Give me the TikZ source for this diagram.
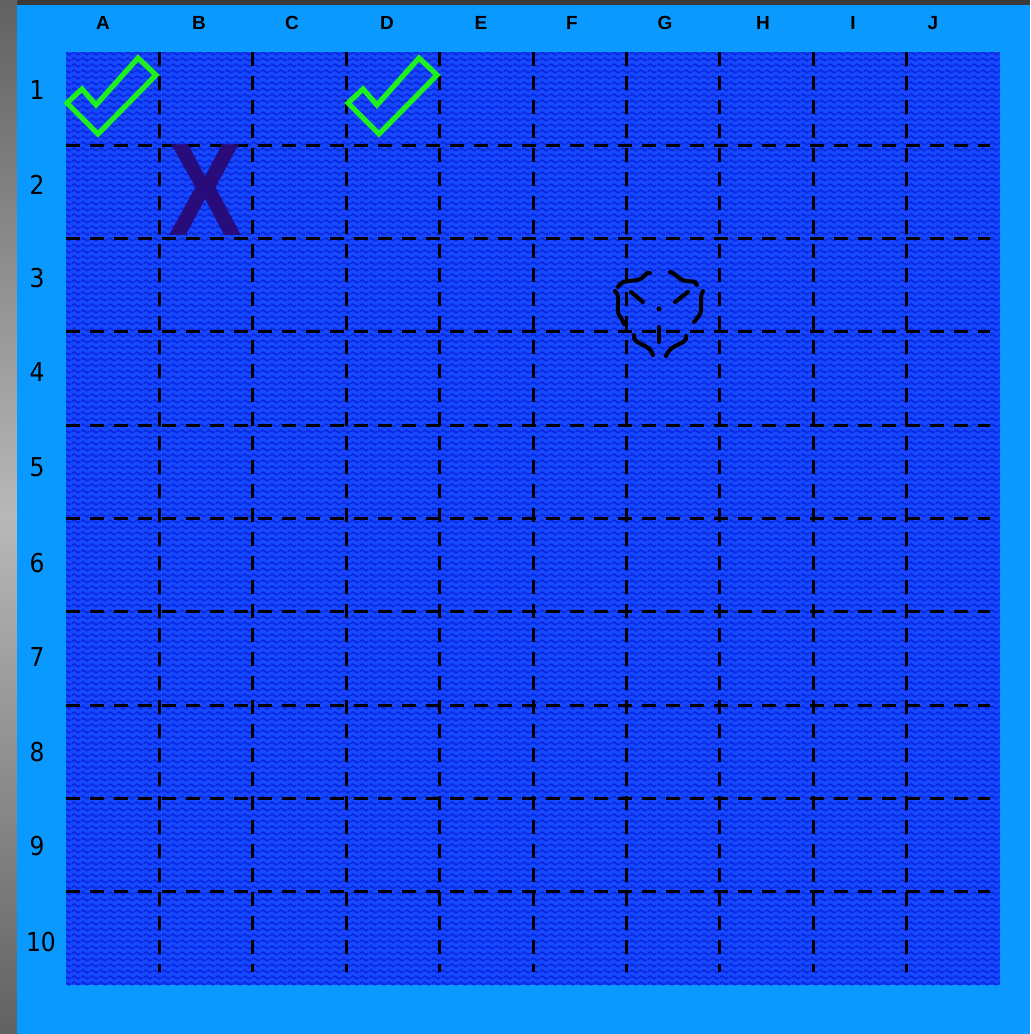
\documentclass[tikz,border=0pt]{standalone}
\definecolor{bgDark}{HTML}{3A3A3A}
\definecolor{bgGrey}{HTML}{B8B8B8}
\definecolor{frameBlue}{HTML}{0A99FF}
\definecolor{seaBlue}{HTML}{1648FF}
\definecolor{waveBlue}{HTML}{0A26DC}
\definecolor{hitGreen}{HTML}{1EF01E}
\definecolor{missInk}{HTML}{280C7C}
\usepackage{fontspec}
\setmainfont{Liberation Sans}
\newfontfamily\rowfont{DejaVu Sans Condensed}
\usetikzlibrary{calc, positioning, patterns.meta}

\tikzdeclarepattern{
  name=seawaves,
  type=uncolored,
  bottom left={(0pt,0pt)},
  top right={(4.5pt,3pt)},
  tile size={(4.5pt,3pt)},
  code={
    \draw[line width=0.9pt] (0pt,1.5pt) sin (1.125pt,2.3pt) cos (2.25pt,1.5pt)
      sin (3.375pt,0.7pt) cos (4.5pt,1.5pt);
  }
}

\begin{document}
\begin{tikzpicture}[x=0.5pt, y=-0.5pt,
    gridline/.style={black, line width=1.5pt, dash pattern=on 7pt off 5pt},
    collabel/.style={font=\bfseries\fontsize{9.5}{10}\selectfont, inner sep=0pt},
    rowlabel/.style={font=\rowfont\fontsize{13}{13}\selectfont, inner sep=0pt},
    tick/.style={hitGreen, line width=2.6pt, line join=miter},
    splash/.style={black, line width=2pt, line cap=round}]
  \useasboundingbox (0,0) rectangle (1030,1034);
  \fill[bgDark] (0,0) rectangle (1030,1034);
  \shade[top color=bgDark!80, bottom color=bgDark!80, middle color=bgGrey] (0,0) rectangle (17,1034);
  \fill[frameBlue] (17,5) rectangle (1030,1034);

  % sea with waves
  \fill[seaBlue] (66,52) rectangle (1000,985);
  \fill[pattern=seawaves, pattern color=waveBlue] (66,52) rectangle (1000,985);

  % dashed grid
  \foreach \i in {1,...,9} {
    \draw[gridline] ({66+93.4*\i},52) -- ({66+93.4*\i},972);
    \draw[gridline] (66,{52+93.3*\i}) -- (990,{52+93.3*\i});
  }

  % labels
  \foreach \c/\x in {A/103,B/199,C/292,D/387,E/481,F/572,G/665,H/763,I/853,J/933}
    \node[collabel] (col\c) at (\x,23) {\c};
  \foreach \r/\y in {1/90,2/185,3/278,4/372,5/467,6/563,7/657,8/752,9/846,10/942}
    \node[rowlabel] (row\r) at ({\r<10 ? 37 : 41},\y) {\r};

  % hits
  \foreach \dx in {0,281}
    \draw[tick] (67+\dx,103) -- (82+\dx,89) -- (96+\dx,105) -- (138+\dx,58)
      -- (156+\dx,75) -- (98+\dx,134) -- cycle;

  % miss
  \node[missInk, inner sep=0pt, xscale=0.84,
        font=\bfseries\fontsize{66}{66}\selectfont] (missB2) at (205.5,190) {X};

  % splash at G3
  \draw[splash] (618,287) .. controls (622,278) and (635,283) .. (642,278)
    .. controls (645,276) and (646,272) .. (650,273);
  \draw[splash] (670,272) .. controls (675,272) and (678,280) .. (686,281)
    .. controls (692,282) and (695,280) .. (697,285);
  \draw[splash] (615,291) .. controls (622,296) and (614,312) .. (621,318)
    .. controls (623,320) and (623,322) .. (624,324);
  \draw[splash] (703,291) .. controls (698,298) and (705,312) .. (697,318)
    .. controls (695,320) and (696,321) .. (694,322);
  \draw[splash] (634,335) .. controls (632,345) and (650,343) .. (653,355);
  \draw[splash] (686,336) .. controls (688,345) and (670,343) .. (666,356);
  \draw[splash] (631,292) -- (643,302);
  \draw[splash] (675,302) -- (688,292);
  \draw[splash] (659,327) -- (659,342);
  \fill (659,309) circle (2.5);
\end{tikzpicture}
\end{document}
